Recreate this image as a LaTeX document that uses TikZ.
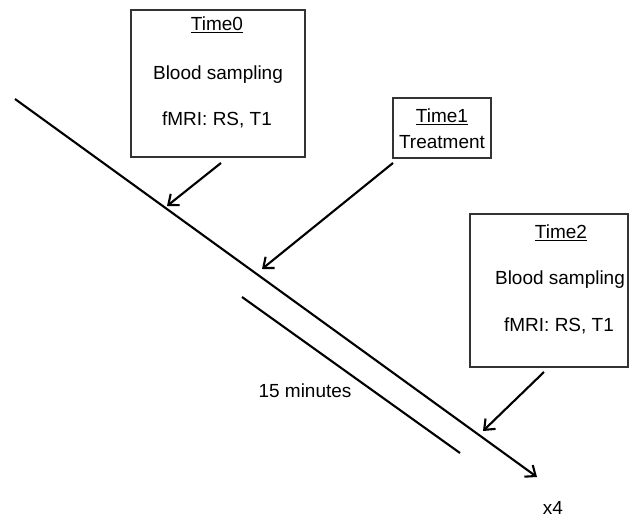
\documentclass[tikz,border=0pt]{standalone}
\usepackage{fontspec}
\setmainfont{Liberation Sans}
\usetikzlibrary{arrows.meta}
\tikzset{
  box/.style={draw=black!80,line width=1pt,inner sep=0pt},
  lbl/.style={font=\fontsize{13.5}{16}\selectfont,inner sep=0pt,anchor=center},
  pointer/.style={line width=1.5pt,-{Straight Barb[length=2.2mm,width=3.6mm]}},
}
\begin{document}
\begin{tikzpicture}[x=0.025cm,y=-0.025cm]
\useasboundingbox (0,0) rectangle (640,517);

% Time line
\coordinate (start) at (15,99);
\coordinate (stop) at (537,477);
\draw[pointer] (start) -- (stop);
\node[lbl] (rep) at (553,508) {x4};

% Interval
\coordinate (i0) at (242,297);
\coordinate (i1) at (460,453);
\draw[line width=1.5pt] (i0) -- (i1);
\node[lbl] (dur) at (305,391) {15 minutes};

% Time0
\node[box,minimum width=4.35cm,minimum height=3.675cm] (box0) at (218,83.5) {};
\node[lbl] (t0) at (217,25) {\underline{Time0}};
\node[lbl] (b0) at (218,75) {Blood sampling};
\node[lbl] (f0) at (217,120) {fMRI: RS, T1};
\coordinate (s0) at (221,163);
\coordinate (e0) at (167,206);
\draw[pointer] (s0) -- (e0);

% Time1
\node[box,minimum width=2.45cm,minimum height=1.5cm] (box1) at (442,128) {};
\node[lbl] (t1) at (442,117) {\underline{Time1}};
\node[lbl] (tr) at (442,142) {Treatment};
\coordinate (s1) at (393,163);
\coordinate (e1) at (262,269);
\draw[pointer] (s1) -- (e1);

% Time2
\node[box,minimum width=3.95cm,minimum height=3.825cm] (box2) at (549,290.5) {};
\node[lbl] (t2) at (561,233) {\underline{Time2}};
\node[lbl] (b2) at (560,280) {Blood sampling};
\node[lbl] (f2) at (559,326) {fMRI: RS, T1};
\coordinate (s2) at (544,372);
\coordinate (e2) at (483,431);
\draw[pointer] (s2) -- (e2);
\end{tikzpicture}
\end{document}
